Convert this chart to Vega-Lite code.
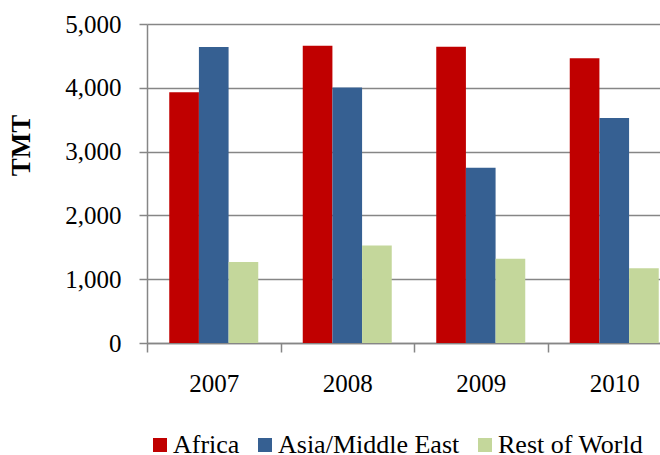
{
  "$schema": "https://vega.github.io/schema/vega-lite/v6.json",
  "autosize": {"type": "none"},
  "width": 513,
  "height": 319,
  "padding": {"left": 147, "top": 24, "right": 0, "bottom": 112},
  "background": "white",
  "config": {
    "view": {"stroke": null},
    "font": "Liberation Serif"
  },
  "data": {
    "values": [
      {"year": "2007", "region": "Africa", "tmt": 3930},
      {"year": "2007", "region": "Asia/Middle East", "tmt": 4640},
      {"year": "2007", "region": "Rest of World", "tmt": 1270},
      {"year": "2008", "region": "Africa", "tmt": 4660},
      {"year": "2008", "region": "Asia/Middle East", "tmt": 4005},
      {"year": "2008", "region": "Rest of World", "tmt": 1530},
      {"year": "2009", "region": "Africa", "tmt": 4645},
      {"year": "2009", "region": "Asia/Middle East", "tmt": 2745},
      {"year": "2009", "region": "Rest of World", "tmt": 1320},
      {"year": "2010", "region": "Africa", "tmt": 4465},
      {"year": "2010", "region": "Asia/Middle East", "tmt": 3525},
      {"year": "2010", "region": "Rest of World", "tmt": 1170}
    ]
  },
  "mark": {"type": "bar"},
  "encoding": {
    "x": {
      "field": "year",
      "type": "nominal",
      "scale": {"range": [0, 534], "paddingInner": 0, "paddingOuter": 0},
      "axis": {
        "title": null,
        "labelAngle": 0,
        "labelFont": "Liberation Serif",
        "labelFontSize": 25,
        "labelColor": "#000000",
        "labelPadding": 19,
        "tickBand": "extent",
        "tickSize": 9,
        "tickColor": "#868686",
        "tickWidth": 1.5,
        "domainColor": "#868686",
        "domainWidth": 1.5,
        "grid": false
      }
    },
    "xOffset": {
      "field": "region",
      "type": "nominal",
      "scale": {"paddingInner": 0, "paddingOuter": 0.75}
    },
    "y": {
      "field": "tmt",
      "type": "quantitative",
      "scale": {"domain": [0, 5000], "nice": false},
      "axis": {
        "title": "TMT",
        "titleFont": "Liberation Serif",
        "titleFontSize": 27,
        "titleFontWeight": "bold",
        "titleColor": "#000000",
        "titleAngle": 270,
        "titleAlign": "center",
        "titleBaseline": "middle",
        "titleX": -125.6,
        "titleY": 121,
        "values": [0, 1000, 2000, 3000, 4000, 5000],
        "format": ",d",
        "labelFont": "Liberation Serif",
        "labelFontSize": 25,
        "labelColor": "#000000",
        "labelPadding": 18,
        "tickSize": 8,
        "tickColor": "#868686",
        "tickWidth": 1.5,
        "domainColor": "#868686",
        "domainWidth": 1.5,
        "grid": true,
        "gridColor": "#868686",
        "gridWidth": 1.5
      }
    },
    "color": {
      "field": "region",
      "type": "nominal",
      "scale": {
        "domain": ["Africa", "Asia/Middle East", "Rest of World"],
        "range": ["#C00000", "#366092", "#C4D79B"]
      },
      "legend": {
        "title": null,
        "orient": "none",
        "direction": "horizontal",
        "legendX": 0,
        "legendY": 408,
        "padding": 0,
        "symbolType": "square",
        "symbolSize": 196,
        "symbolStrokeWidth": 0,
        "symbolOpacity": 1,
        "labelFont": "Liberation Serif",
        "labelFontSize": 26,
        "labelColor": "#000000",
        "labelOffset": 0,
        "columnPadding": 12,
        "labelLimit": 400
      }
    }
  }
}
